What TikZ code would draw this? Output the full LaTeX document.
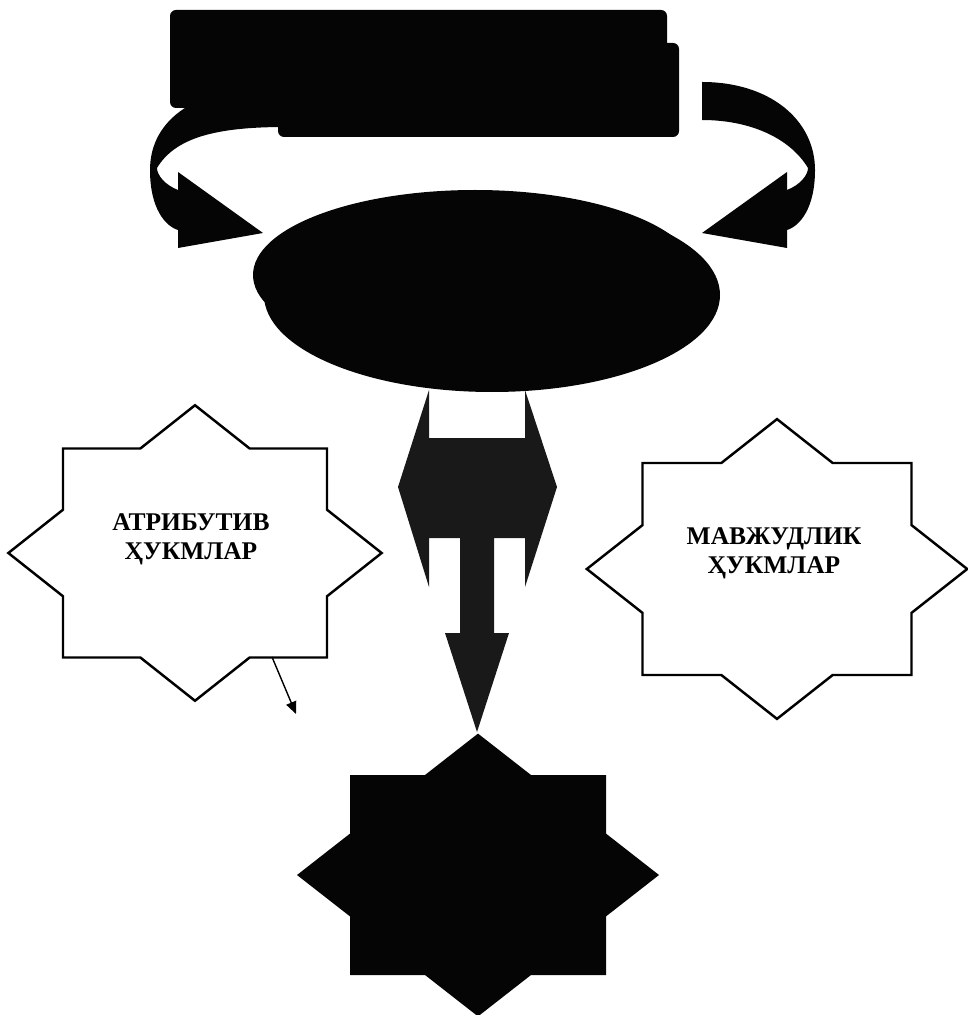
\documentclass[tikz,border=0pt]{standalone}
\usepackage{fontspec}
\setmainfont{Liberation Serif}
\definecolor{inkblack}{gray}{0.02}
\definecolor{speckgray}{gray}{0.10}
\usetikzlibrary{arrows.meta}
\tikzset{
  blob/.style={fill=inkblack,draw=none},
  starline/.style={draw=black,line width=1.4pt,fill=white},
  starfill/.style={fill=inkblack,draw=none},
  caption/.style={font=\bfseries\fontsize{14.5}{16.5}\selectfont,align=center}
}
% eight-pointed star: style, centre, half width, half height
\newcommand{\yulduz}[4]{%
  \draw[#1,shift={#2},xscale=#3,yscale=#4]
    (1.414,0) -- (1,0.414) -- (1,1) -- (0.414,1) -- (0,1.414) -- (-0.414,1)
    -- (-1,1) -- (-1,0.414) -- (-1.414,0) -- (-1,-0.414) -- (-1,-1)
    -- (-0.414,-1) -- (0,-1.414) -- (0.414,-1) -- (1,-1) -- (1,-0.414) -- cycle;}

\begin{document}
\begin{tikzpicture}[x=0.2mm,y=-0.2mm]
        \useasboundingbox (0,0) rectangle (967,1015);
        % curved arrows round the box
        \fill[blob] (285,85) .. controls (195,85) and (150,120) .. (150,170)
              .. controls (150,208) and (165,226) .. (178,230) -- (178,248)
              -- (263,233) -- (178,172) -- (178,190)
              .. controls (165,185) and (157,175) .. (157,168)
              .. controls (175,138) and (215,127) .. (285,127) -- cycle;
        \fill[blob] (702,82) .. controls (770,82) and (815,120) .. (815,170)
              .. controls (815,208) and (800,226) .. (787,230) -- (787,248)
              -- (702,233) -- (787,172) -- (787,190)
              .. controls (800,185) and (808,175) .. (808,168)
              .. controls (790,138) and (750,120) .. (702,120) -- cycle;
        \fill[blob,rounded corners=1.2mm] (170,10) rectangle (667,108);
        \fill[blob,rounded corners=1.2mm] (278,43) rectangle (679,137);
        \fill[blob] (475,275) ellipse [x radius=222,y radius=85];
        \fill[blob] (492,295) ellipse [x radius=228,y radius=97];
        % double arrow with the stem down
        \fill[speckgray] (429,390) -- (429,438) -- (525,438) -- (525,390)
              -- (557,487) -- (525,587) -- (525,538) -- (494,538) -- (494,633)
              -- (509,633) -- (477,732) -- (445,633) -- (460,633) -- (460,538)
              -- (429,538) -- (429,587) -- (398,487) -- cycle;
        \yulduz{starline}{(195,553)}{132}{104.5}
        \yulduz{starline}{(777,569)}{134.5}{106}
        \yulduz{starfill}{(478,875)}{128}{100}
        \node[caption] (attr) at (191,539) {АТРИБУТИВ\\ҲУКМЛАР};
        \node[caption] (mavj) at (774,553) {МАВЖУДЛИК\\ҲУКМЛАР};
        \coordinate (attrfoot) at (272,657);
        \coordinate (attrtip) at (296,714);
        \draw[line width=0.8pt,-{Triangle[length=7pt,width=6pt]}] (attrfoot) -- (attrtip);
      \end{tikzpicture}
\end{document}
